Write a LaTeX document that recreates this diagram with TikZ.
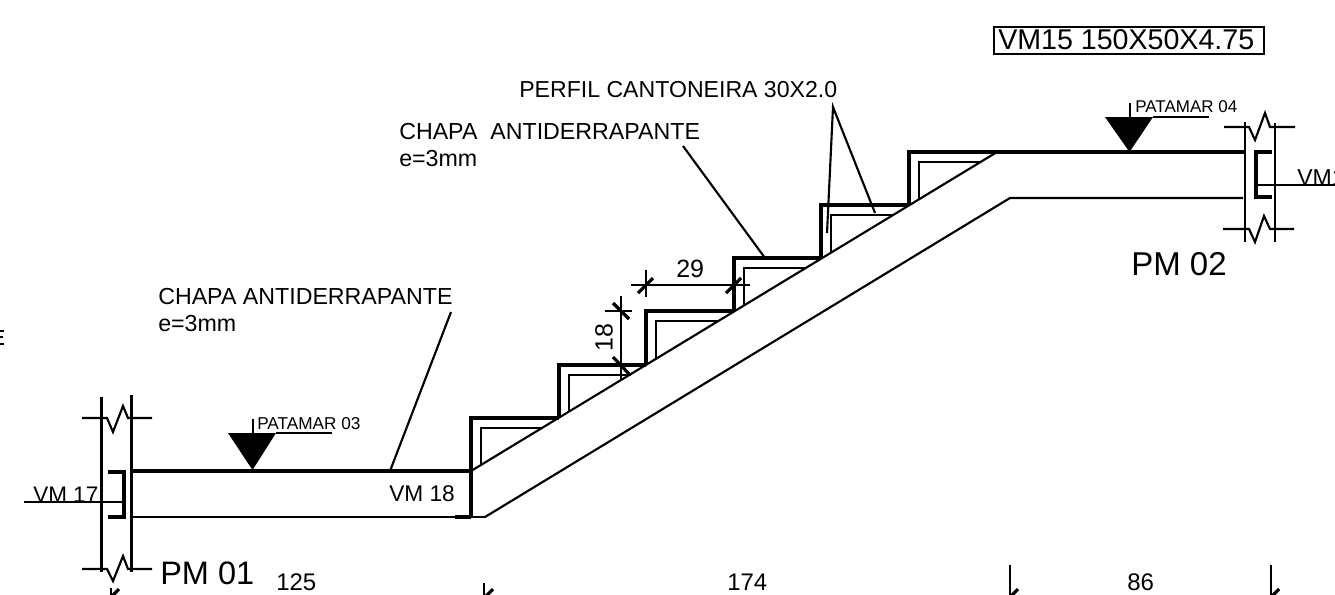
\documentclass[tikz,border=0pt]{standalone}
\usepackage{fontspec}
\setmainfont{Liberation Sans}
\newcommand{\fpx}[1]{\fontsize{\dimexpr#1pt*3/4\relax}{\dimexpr#1pt*3/4\relax}\selectfont}
\tikzset{
  x=0.75pt,y=-0.75pt,
  lnA/.style={draw=black,line width=1.5pt},
  lnB/.style={draw=black,line width=1.6pt},
  lnC/.style={draw=black,line width=2.4pt},
  lnD/.style={draw=black,line width=2.6pt},
  txt/.style={inner sep=0pt,anchor=base west,text=black},
}
\begin{document}
\begin{tikzpicture}
\useasboundingbox (0,0) rectangle (1335,594);
\clip (0,0) rectangle (1335,594);
% clipped letter at the left edge
\draw[lnA] (0,331) -- (4,331) (0,337) -- (3,337) (0,344) -- (4,344);

% left wall
\draw[lnB] (101.5,397) -- (101.5,572) (131.5,395) -- (131.5,572);
\draw[lnB] (82,418) -- (107,418) -- (113,432) -- (123,406) -- (128,418) -- (152,418);
\draw[lnB] (82,569) -- (107,569) -- (113,581) -- (123,556) -- (128,569) -- (152,569);
\draw[lnC] (108,472) -- (124,472) -- (124,517) -- (108,517);
\draw[lnB] (24,502) -- (124,502);
\node[txt,font=\fpx{22.5}] (vm17) at (33,502) {VM 17};

% landing and beam
\draw[lnD] (131.5,471) -- (471,471);
\draw[lnB] (131.5,517) -- (485,517);
\draw[lnC] (471,418) -- (471,517);
\draw[lnC] (455,517) -- (471,517);
\node[txt,font=\fpx{22.7}] (vm18) at (389,501) {VM 18};
\draw[lnB] (471,471) -- (997,152);
\draw[lnB] (485,517) -- (1010,198) -- (1243,198);
\draw[lnD] (997,152) -- (1245,152);

% steps
\foreach \xa/\ya/\xb/\yb in {471/418/559/418,559/365/646/365,646/311/734/311,734/258/821/258,821/205/909/205,909/152/997/152}{
  \draw[lnC] (\xa,\ya+53) -- (\xa,\ya) -- (\xb,\yb);
  \draw[lnA] (\xa+10,\ya+47) -- (\xa+10,\ya+10) -- (\xa+72,\ya+10);
}

% level marks
\fill (228,433) -- (276,433) -- (252.5,470) -- cycle;
\draw[lnA] (252.5,419) -- (252.5,433) (276,433) -- (332,433);
\node[txt,font=\fpx{17.2}] (p3) at (257,429) {PATAMAR 03};
\fill (1105,117) -- (1153,117) -- (1129.5,152) -- cycle;
\draw[lnA] (1129.5,103) -- (1129.5,117) (1153,117) -- (1209,117);
\node[txt,font=\fpx{17}] (p4) at (1135,112) {PATAMAR 04};

% right wall
\draw[lnB] (1245,122) -- (1245,242) (1275,123) -- (1275,242);
\draw[lnB] (1224,127) -- (1249,127) -- (1255,140) -- (1265,113) -- (1270,127) -- (1295,127);
\draw[lnB] (1223,229) -- (1249,229) -- (1255,242) -- (1264,216) -- (1270,229) -- (1294,229);
\draw[lnC] (1272,152) -- (1256,152) -- (1256,197) -- (1272,197);
\draw[lnB] (1256,185) -- (1335,185);
\node[txt,font=\fpx{23}] (vm1x) at (1297,185) {VM1};
\node[txt,font=\fpx{33}] (pm2) at (1131,275) {PM 02};
\node[txt,font=\fpx{32.5}] (pm1) at (160,584) {PM 01};

% title
\node[draw=black,line width=1.5pt,inner sep=0pt,minimum width=202.5pt,minimum height=20pt,anchor=north west] (title) at (993,26) {};
\node[txt,font=\fpx{28.6}] (titletxt) at (998,49) {VM15 150X50X4.75};

% leaders
\node[txt,font=\fpx{23.1}] (perfil) at (519,97) {PERFIL CANTONEIRA 30X2.0};
\coordinate (pa) at (833,107);
\coordinate (pb) at (827,233);
\coordinate (pc) at (875,213);
\draw[lnB] (pb) -- (pa) -- (pc);
\node[txt,font=\fpx{23.2}] (chapa1) at (399,139) {CHAPA\ \ ANTIDERRAPANTE};
\node[txt,font=\fpx{23.2}] (e1) at (399,166) {e=3mm};
\coordinate (c1a) at (683,146);
\coordinate (c1b) at (765,258);
\draw[lnB] (c1a) -- (c1b);
\node[txt,font=\fpx{23.2}] (chapa2) at (158,304) {CHAPA ANTIDERRAPANTE};
\node[txt,font=\fpx{23.2}] (e2) at (158,331) {e=3mm};
\coordinate (c2a) at (451,312);
\coordinate (c2b) at (390,471);
\draw[lnB] (c2a) -- (c2b);

% dimensions
\draw[lnB] (631,285) -- (750,285);
\draw[lnB] (646,270) -- (646,297);
\draw[lnC] (638,293) -- (653,278) (726,293) -- (741,278);
\node[txt,font=\fpx{25}] (d29) at (676,277) {29};
\draw[lnB] (621,296) -- (621,380) (605,311) -- (632,311);
\draw[lnC] (613,303) -- (629,319) (613,357) -- (629,374);
\node[txt,font=\fpx{25},rotate=90] (d18) at (612.5,352) {18};

% bottom dimension marks
\node[txt,font=\fpx{24}] (d125) at (276,590) {125};
\node[txt,font=\fpx{24}] (d174) at (727,590) {174};
\node[txt,font=\fpx{24}] (d86) at (1127,590) {86};
\draw[lnB] (1010,565) -- (1010,596) (1271,565) -- (1271,596);
\draw[lnC] (1018,589) -- (1010,597) (1279,589) -- (1271,597);
\draw[lnB] (484,583) -- (484,596) (111,588) -- (111,596);
\draw[lnC] (493,589) -- (485,597) (119,589) -- (111,597);
\end{tikzpicture}
\end{document}
